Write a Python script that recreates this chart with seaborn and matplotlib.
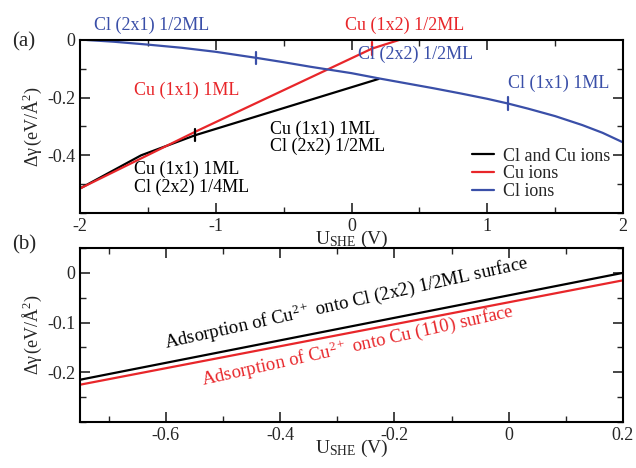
import numpy as np
import matplotlib
matplotlib.use("Agg")
import matplotlib.pyplot as plt
import seaborn as sns
from matplotlib.ticker import MultipleLocator, FixedLocator

# panel (a) data
both_x = [-2.0, -1.55, -1.15, 0.2]
both_y = [-0.515, -0.40, -0.33, -0.135]
cu_x = [-2.0, -1.15, 0.15, 0.35]
cu_y = [-0.515, -0.318, -0.03, 0.0]
cl_x = [-1.95, -1.75, -1.5, -1.25, -1.0, -0.7, -0.5, -0.3, 0.0, 0.2, 0.4, 0.6,
        0.8, 1.0, 1.15, 1.3, 1.5, 1.7, 1.85, 2.0]
cl_y = [0.0, -0.006, -0.016, -0.027, -0.041, -0.062, -0.077, -0.093, -0.115, -0.133,
        -0.15, -0.167, -0.185, -0.204, -0.22, -0.238, -0.264, -0.295, -0.322, -0.355]
ticks_both = [(-1.15, -0.33)]
ticks_cu = [(0.15, -0.03)]
ticks_cl = [(-0.7, -0.062), (1.15, -0.22)]
a_xticks = [-2, -1, 0, 1, 2]
a_yticks = [0, -0.2, -0.4]

# panel (b) data
b_x = [-0.75, 0.2]
b_black = [-0.215, 0.0]
b_red = [-0.225, -0.015]
b_xticks = [-0.6, -0.4, -0.2, 0, 0.2]
b_yticks = [0, -0.1, -0.2]

sns.set_theme(style="ticks")
plt.rcParams['font.family'] = ['Liberation Serif', 'DejaVu Serif']
plt.rcParams['mathtext.fontset'] = 'custom'
plt.rcParams['mathtext.rm'] = 'Liberation Serif'
plt.rcParams['mathtext.it'] = 'Liberation Serif:italic'
plt.rcParams['mathtext.default'] = 'rm'

BLUE = '#3a4fa8'
RED = '#e8262a'

fig = plt.figure(figsize=(6.36, 4.68), dpi=100)
ax1 = fig.add_axes([80/636, 1-213/468, 543/636, 173/468])
ax2 = fig.add_axes([80/636, 1-422/468, 543/636, 174/468])

sns.lineplot(x=both_x, y=both_y, ax=ax1, color='black', lw=1.6, label='Cl and Cu ions', sort=False)
sns.lineplot(x=cu_x, y=cu_y, ax=ax1, color=RED, lw=1.6, label='Cu ions', sort=False)
sns.lineplot(x=cl_x, y=cl_y, ax=ax1, color=BLUE, lw=1.6, label='Cl ions', sort=False)
for pts, c in [(ticks_both, 'black'), (ticks_cu, RED), (ticks_cl, BLUE)]:
    for x, y in pts:
        ax1.plot([x, x], [y - 0.022, y + 0.022], color=c, lw=1.6)

ax1.set_xlim(-2, 2)
ax1.set_ylim(-0.6, 0)
ax1.xaxis.set_major_locator(FixedLocator(a_xticks))
ax1.xaxis.set_minor_locator(MultipleLocator(0.5))
ax1.yaxis.set_major_locator(FixedLocator(a_yticks))
ax1.yaxis.set_minor_locator(MultipleLocator(0.1))
ax1.set_xticklabels([f'{v:g}' for v in a_xticks])
ax1.set_yticklabels([f'{v:g}' for v in a_yticks])
ax1.legend(loc='lower right', frameon=False, fontsize=13, handlelength=1.2,
           borderaxespad=0.3, labelspacing=0.05, handletextpad=0.5)

fs = 13
ax1.text(-1.9, 0.02, 'Cl (2x1) 1/2ML', color=BLUE, fontsize=fs, va='bottom')
ax1.text(-0.05, 0.02, 'Cu (1x2) 1/2ML', color=RED, fontsize=fs, va='bottom')
ax1.text(0.05, -0.05, 'Cl (2x2) 1/2ML', color=BLUE, fontsize=fs, va='center')
ax1.text(1.15, -0.15, 'Cl (1x1) 1ML', color=BLUE, fontsize=fs, va='center')
ax1.text(-1.6, -0.175, 'Cu (1x1) 1ML', color=RED, fontsize=fs, va='center')
ax1.text(-0.6, -0.34, 'Cu (1x1) 1ML\nCl (2x2) 1/2ML', color='black', fontsize=fs,
         va='center', linespacing=1.0)
ax1.text(-1.6, -0.48, 'Cu (1x1) 1ML\nCl (2x2) 1/4ML', color='black', fontsize=fs,
         va='center', linespacing=1.0)

sns.lineplot(x=b_x, y=b_black, ax=ax2, color='black', lw=1.6)
sns.lineplot(x=b_x, y=b_red, ax=ax2, color=RED, lw=1.6)
ax2.set_xlim(-0.75, 0.2)
ax2.set_ylim(-0.3, 0.05)
ax2.xaxis.set_major_locator(FixedLocator(b_xticks))
ax2.xaxis.set_minor_locator(MultipleLocator(0.1))
ax2.yaxis.set_major_locator(FixedLocator(b_yticks))
ax2.yaxis.set_minor_locator(MultipleLocator(0.05))
ax2.set_xticklabels([f'{v:g}' for v in b_xticks])
ax2.set_yticklabels([f'{v:g}' for v in b_yticks])
ax2.text(-0.6, -0.152, r'Adsorption of Cu$^{2+}$ onto Cl (2x2) 1/2ML surface',
         color='black', fontsize=13.5, rotation=12.5, rotation_mode='anchor')
ax2.text(-0.535, -0.226, r'Adsorption of Cu$^{2+}$ onto Cu (110) surface',
         color=RED, fontsize=13.5, rotation=12.5, rotation_mode='anchor')

for ax in (ax1, ax2):
    ax.tick_params(which='both', direction='in', top=True, right=True, labelsize=13)
    ax.tick_params(which='major', length=7, width=1.2)
    ax.tick_params(which='minor', length=4, width=1.0)
    for s in ax.spines.values():
        s.set_linewidth(1.5)
        s.set_color('black')
    ax.set_xlabel(r'U$_{\mathrm{SHE}}$ (V)', fontsize=14, labelpad=-4)
    ax.set_ylabel(r'$\Delta\gamma\,$(eV/Å$^2$)', fontsize=13, labelpad=2)

fig.text(12/636, 1-42/468, '(a)', fontsize=15, va='center')
fig.text(12/636, 1-245/468, '(b)', fontsize=15, va='center')

fig.savefig('out.png', dpi=100)
